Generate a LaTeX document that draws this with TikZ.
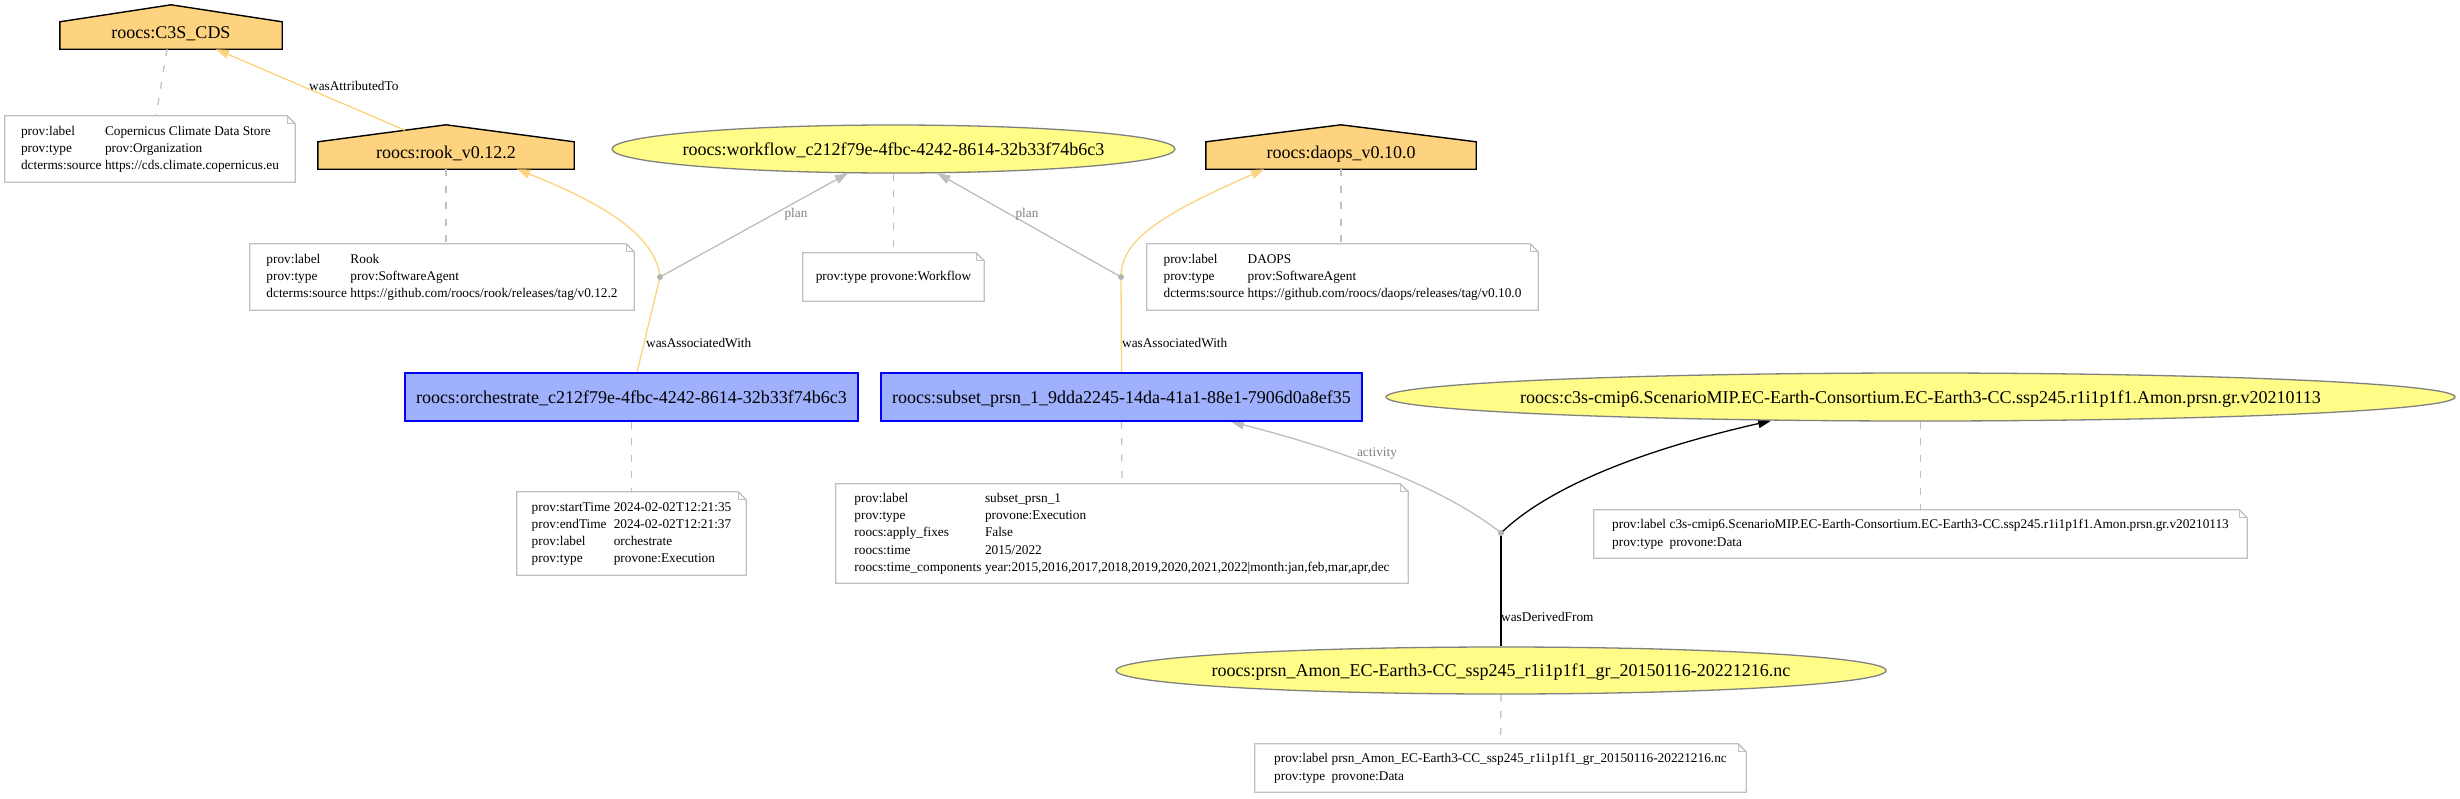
\documentclass[tikz,border=0pt]{standalone}
\usepackage{fontspec}
\setmainfont{Liberation Serif}
\usetikzlibrary{shapes.geometric,arrows.meta,calc}
\pgfdeclarelayer{background}
\pgfdeclarelayer{edgelayer}
\pgfsetlayers{background,edgelayer,main}
\definecolor{agentfill}{HTML}{FED37F}
\definecolor{entityfill}{HTML}{FFFC87}
\definecolor{entityline}{HTML}{808080}
\definecolor{actfill}{HTML}{9FB1FC}
\definecolor{actline}{HTML}{0000FF}
\definecolor{notegray}{HTML}{C0C0C0}
\definecolor{linegray}{HTML}{BEBEBE}
\definecolor{dotgray}{HTML}{B4B4B4}
\definecolor{labelgray}{HTML}{808080}
\newcommand\nodefont{\fontsize{18}{21.6}\selectfont}
\newcommand\notefont{\fontsize{13.3}{17.3}\selectfont}
\newcommand\zw[1]{\makebox[0pt]{#1}}
\newcommand\notefold[1]{%
  \draw[noteline,fill=white] (#1.south west) -- (#1.north west) -- ([xshift=-8pt]#1.north east) -- ([yshift=-8pt]#1.north east) -- (#1.south east) -- cycle;
  \draw[noteline] ([xshift=-8pt]#1.north east) |- ([yshift=-8pt]#1.north east);}
\newcommand\agenthouse[1]{%
  \draw[agentline] (#1.south west) -- (#1.north west) -- ([yshift=17pt]#1.north) -- (#1.north east) -- (#1.south east) -- cycle;}
\tikzset{
  agent/.style={rectangle, inner sep=0pt, font=\nodefont, text height=12pt, text depth=7pt, minimum height=27pt},
  entity/.style={ellipse, draw=entityline, fill=entityfill, line width=1.3pt, inner sep=0pt, font=\nodefont, text height=12pt, text depth=0pt},
  activity/.style={rectangle, draw=actline, fill=actfill, line width=1.3pt, inner sep=0pt, font=\nodefont, text height=12pt, text depth=0pt, minimum height=48pt},
  notebox/.style={rectangle, inner sep=0pt, font=\notefont, align=left},
  bnode/.style={circle, fill=dotgray, inner sep=0pt, minimum size=6pt},
  agentline/.style={draw=black, fill=agentfill, line width=1.4pt, line join=miter},
  noteline/.style={draw=notegray, line width=1.3pt},
  annline/.style={draw=notegray, line width=1.3pt, dash pattern=on 7pt off 9.5pt},
  agentedge/.style={draw=agentfill, line width=1.3pt},
  planedge/.style={draw=linegray, line width=1.3pt},
  blackedge/.style={draw=black, line width=1.3pt},
  arr/.style={-{Triangle[length=13pt,width=9pt]}},
  elabel/.style={font=\notefont, inner sep=0pt, text=black},
  glabel/.style={font=\notefont, inner sep=0pt, text=labelgray}
}
\newcommand\ntab[1]{\begin{tabular}{@{}l@{\hspace{3.5pt}}l@{}}#1\end{tabular}}
\begin{document}
\begin{tikzpicture}[x=1pt,y=-1pt]
\useasboundingbox (0,0) rectangle (2460,798);
\begin{pgfonlayer}{background}
\fill[white] (0,0) rectangle (2460,798);
\end{pgfonlayer}

% agents
\node[agent, minimum width=222pt] (c3sag) at (171,35.5) {roocs:C3S\_CDS};
\node[agent, minimum width=256pt] (rook) at (446,155.5) {roocs:rook\_v0.12.2};
\node[agent, minimum width=270pt] (daops) at (1341,155.5) {roocs:daops\_v0.10.0};

% entities
\node[entity, minimum width=563pt, minimum height=48pt] (wf) at (893.5,149) {\zw{roocs:workflow\_c212f79e-4fbc-4242-8614-32b33f74b6c3}};
\node[entity, minimum width=1069pt, minimum height=48pt] (c3sd) at (1920.5,397) {\zw{roocs:c3s-cmip6.ScenarioMIP.EC-Earth-Consortium.EC-Earth3-CC.ssp245.r1i1p1f1.Amon.prsn.gr.v20210113}};
\node[entity, minimum width=770pt, minimum height=47pt] (prsn) at (1501,670.5) {\zw{roocs:prsn\_Amon\_EC-Earth3-CC\_ssp245\_r1i1p1f1\_gr\_20150116-20221216.nc}};

% activities
\node[activity, minimum width=453pt] (orch) at (631.5,397) {roocs:orchestrate\_c212f79e-4fbc-4242-8614-32b33f74b6c3};
\node[activity, minimum width=481pt] (subset) at (1121.5,397) {roocs:subset\_prsn\_1\_9dda2245-14da-41a1-88e1-7906d0a8ef35};

% blank nodes
\node[bnode] (dotL) at (660,277) {};
\node[bnode] (dotR) at (1121,277) {};
\node[bnode] (dotD) at (1501,533) {};

% notes
\node[notebox, minimum width=290pt, minimum height=66pt] (c3snote) at (150,149) {\ntab{prov:label & Copernicus Climate Data Store\\ prov:type & prov:Organization\\ dcterms:source & https://cds.climate.copernicus.eu}};
\node[notebox, minimum width=384pt, minimum height=66pt] (rooknote) at (442,277) {\ntab{prov:label & Rook\\ prov:type & prov:SoftwareAgent\\ dcterms:source & https://github.com/roocs/rook/releases/tag/v0.12.2}};
\node[notebox, minimum width=181pt, minimum height=48pt] (wfnote) at (893.5,277) {\ntab{prov:type & provone:Workflow}};
\node[notebox, minimum width=391pt, minimum height=66pt] (daopsnote) at (1342.5,277) {\ntab{prov:label & DAOPS\\ prov:type & prov:SoftwareAgent\\ dcterms:source & https://github.com/roocs/daops/releases/tag/v0.10.0}};
\node[notebox, minimum width=229pt, minimum height=83pt] (orchnote) at (631.5,533.5) {\ntab{prov:startTime & 2024-02-02T12:21:35\\ prov:endTime & 2024-02-02T12:21:37\\ prov:label & orchestrate\\ prov:type & provone:Execution}};
\node[notebox, minimum width=572pt, minimum height=99pt] (subsetnote) at (1122,533.5) {\ntab{prov:label & subset\_prsn\_1\\ prov:type & provone:Execution\\ roocs:apply\_fixes & False\\ roocs:time & 2015/2022\\ roocs:time\_components & year:2015,2016,2017,2018,2019,2020,2021,2022|month:jan,feb,mar,apr,dec}};
\node[notebox, minimum width=653pt, minimum height=48pt] (c3sdnote) at (1920.5,534) {\ntab{prov:label & c3s-cmip6.ScenarioMIP.EC-Earth-Consortium.EC-Earth3-CC.ssp245.r1i1p1f1.Amon.prsn.gr.v20210113\\ prov:type & provone:Data}};
\node[notebox, minimum width=491pt, minimum height=48pt] (prsnnote) at (1500.5,768) {\ntab{prov:label & prsn\_Amon\_EC-Earth3-CC\_ssp245\_r1i1p1f1\_gr\_20150116-20221216.nc\\ prov:type & provone:Data}};

\begin{pgfonlayer}{background}
\agenthouse{c3sag}
\agenthouse{rook}
\agenthouse{daops}
\notefold{c3snote}
\notefold{rooknote}
\notefold{wfnote}
\notefold{daopsnote}
\notefold{orchnote}
\notefold{subsetnote}
\notefold{c3sdnote}
\notefold{prsnnote}
\end{pgfonlayer}

\begin{pgfonlayer}{edgelayer}
% annotation links
\draw[annline] ($(c3sag.south)+(-4,0)$) -- ($(c3snote.north)+(6,0)$);
\draw[annline] (rook.south) -- (rook.south |- rooknote.north);
\draw[annline] (wf.south) -- (wfnote.north);
\draw[annline] (daops.south) -- (daops.south |- daopsnote.north);
\draw[annline] (orch.south) -- (orchnote.north);
\draw[annline] (subset.south) -- (subsetnote.north);
\draw[annline] (c3sd.south) -- (c3sdnote.north);
\draw[annline] (prsn.south) -- (prsnnote.north);

% edges
\draw[agentedge,arr] ($(rook.north)+(-41,-11.6)$) -- ($(c3sag.south)+(45,0)$);
\draw[agentedge] ($(orch.north)+(5.5,0)$) -- (dotL.center);
\draw[agentedge,arr] (dotL.center) .. controls (656,240) and (615,208) .. ($(rook.south)+(71,0)$);
\draw[planedge,arr] (dotL.center) -- (wf.208.6);
\draw[agentedge] (subset.north) -- (dotR.center);
\draw[agentedge,arr] (dotR.center) .. controls (1121,240) and (1160,215) .. ($(daops.south)+(-77,0)$);
\draw[planedge,arr] (dotR.center) -- (wf.331.4);
\draw[planedge,arr] (dotD.center) .. controls (1460,500) and (1380,460) .. ($(subset.south)+(109.5,0)$);
\draw[blackedge] (prsn.north) -- (dotD.center);
\draw[blackedge,arr] (dotD.center) .. controls (1540,495) and (1620,455) .. (c3sd.189.6);
\end{pgfonlayer}

% edge labels
\node[elabel, anchor=west] (lAttr) at (309,86) {wasAttributedTo};
\node[elabel, anchor=west] (lAssocL) at (646,343) {wasAssociatedWith};
\node[elabel, anchor=west] (lAssocR) at (1122,343) {wasAssociatedWith};
\node[elabel, anchor=west] (lDer) at (1501,617) {wasDerivedFrom};
\node[glabel] (lPlanL) at (796,214) {plan};
\node[glabel] (lPlanR) at (1027,214) {plan};
\node[glabel] (lAct) at (1377,454) {activity};
\end{tikzpicture}
\end{document}
